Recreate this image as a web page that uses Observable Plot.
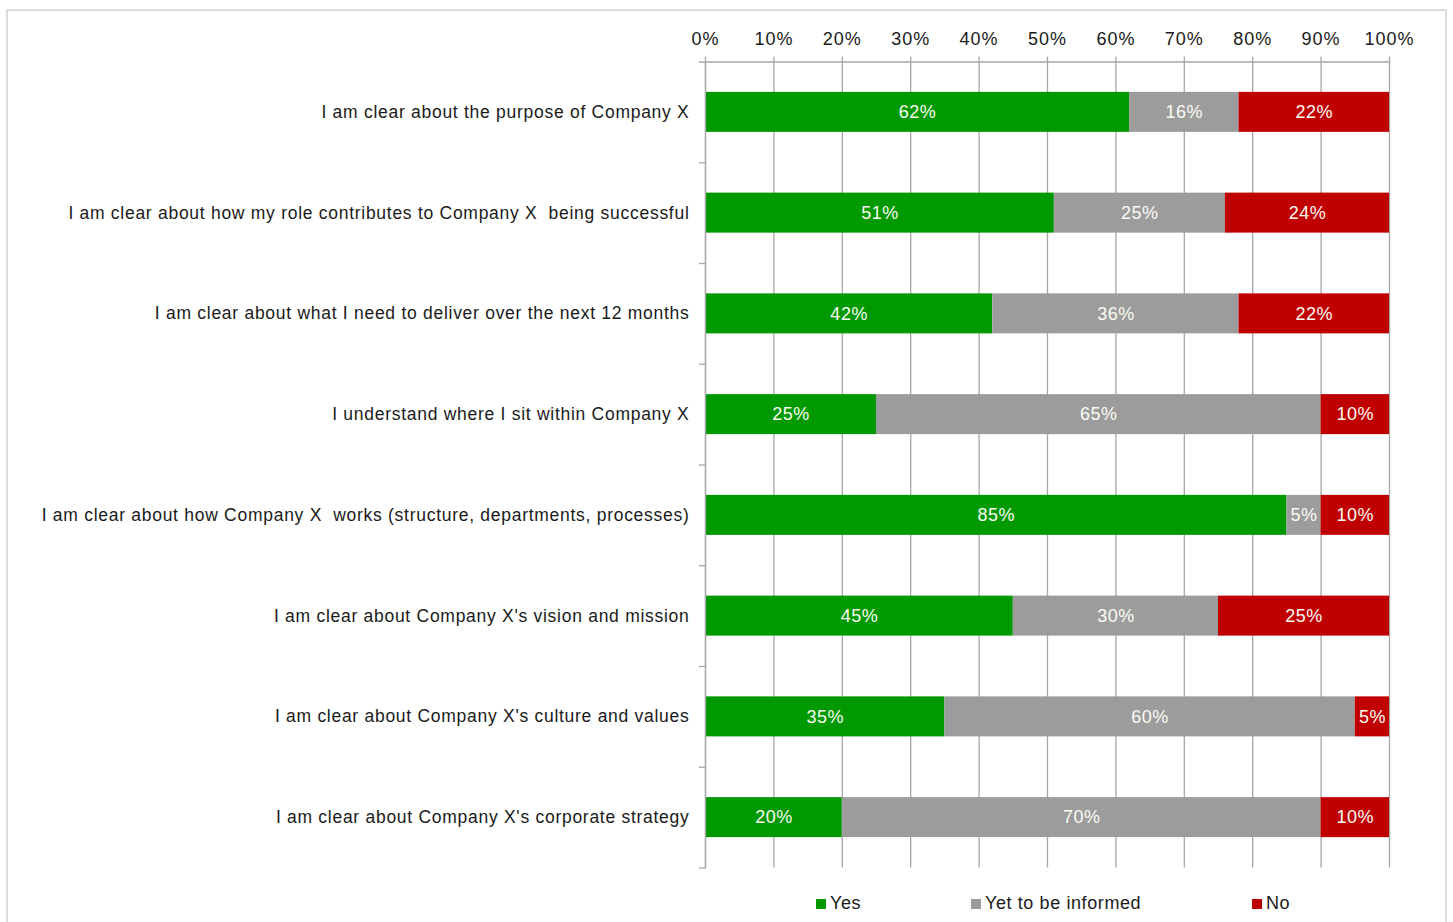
<!DOCTYPE html>
<html>
<head>
<meta charset="utf-8">
<script src="https://cdn.jsdelivr.net/npm/d3@7"></script>
<script src="https://cdn.jsdelivr.net/npm/@observablehq/plot@0.6"></script>
<style>
  html, body { margin: 0; padding: 0; background: #fff; }
  #wrap { position: relative; width: 1453px; height: 922px; overflow: hidden; font-family: "Liberation Sans", Arial, sans-serif; }
  #frame { position: absolute; left: 6px; top: 9px; width: 1441px; height: 930px; border: 2px solid #dcdcdc; box-sizing: border-box; }
  #chart { position: absolute; left: 0; top: 0; }
  .lg { position: absolute; top: 893px; font-size: 18px; letter-spacing: 0.6px; color: #1a1a1a; display: flex; align-items: center; white-space: nowrap; }
  .lg i { display: inline-block; width: 10px; height: 10px; margin-right: 4px; }
  #chart g[aria-label="y-axis tick label"] text { letter-spacing: 0.72px; }
  #chart g[aria-label="x-axis tick label"] text { letter-spacing: 1px; }
  #chart g[aria-label="text"] text { letter-spacing: 0.5px; }
</style>
</head>
<body>
<div id="wrap">
  <div id="frame"></div>
  <div id="chart"></div>
  <div id="legend"></div>
</div>
<script>
const categories = [
  "I am clear about the purpose of Company X",
  "I am clear about how my role contributes to Company X  being successful",
  "I am clear about what I need to deliver over the next 12 months",
  "I understand where I sit within Company X",
  "I am clear about how Company X  works (structure, departments, processes)",
  "I am clear about Company X's vision and mission",
  "I am clear about Company X's culture and values",
  "I am clear about Company X's corporate strategy"
];
const seriesNames = ["Yes", "Yet to be informed", "No"];
const seriesColors = ["#009900", "#9c9c9c", "#c00000"];
const yesValues = [62, 51, 42, 25, 85, 45, 35, 20];
const yetValues = [16, 25, 36, 65, 5, 30, 60, 70];
const noValues  = [22, 24, 22, 10, 10, 25, 5, 10];
const xTicks = [0, 10, 20, 30, 40, 50, 60, 70, 80, 90, 100];

const seriesValues = [yesValues, yetValues, noValues];
const data = [];
categories.forEach((c, i) => {
  seriesNames.forEach((s, j) => {
    data.push({category: c, series: s, value: seriesValues[j][i]});
  });
});

const marginTop = 61.5, marginBottom = 11.5, marginLeft = 705, marginRight = 64;
const height = 879;
const step = (height - marginTop - marginBottom) / categories.length;
const barH = 40;
const inset = (step - barH) / 2;

const chart = Plot.plot({
  width: 1453,
  height,
  marginTop, marginBottom, marginLeft, marginRight,
  style: {fontFamily: "'Liberation Sans', Arial, sans-serif", fontSize: "17px", color: "#1a1a1a", background: "transparent"},
  x: {domain: [0, 100], axis: null, label: null},
  y: {domain: categories, padding: 0, round: false, axis: null, label: null},
  color: {domain: seriesNames, range: seriesColors},
  marks: [
    Plot.ruleX(xTicks, {x: d => d, stroke: "#a6a6a6", strokeWidth: 1.3, insetTop: -5}),
    Plot.frame({anchor: "top", stroke: "#a6a6a6", strokeWidth: 1.3, insetLeft: -6}),
    Plot.barX(data, Plot.stackX({x: "value", y: "category", fill: "series", insetTop: inset, insetBottom: inset, order: seriesNames})),
    Plot.frame({anchor: "left", stroke: "#a6a6a6", strokeWidth: 1.3}),
    Plot.axisY({tickSize: 6, dy: step / 2, tickFormat: () => "", stroke: "#a6a6a6", strokeWidth: 1.3, strokeOpacity: 1, label: null}),
    Plot.axisY({tickSize: 0, tickPadding: 16, fontSize: 17.5, fill: "#1a1a1a", label: null}),
    Plot.axisX({anchor: "top", ticks: xTicks, tickFormat: d => d + "%", tickSize: 0, tickPadding: 17, fontSize: 18, fill: "#1a1a1a", label: null}),
    Plot.text(data, Plot.stackX({x: "value", y: "category", z: "series", order: seriesNames, text: d => d.value + "%", fill: "#fbfbf3", fontSize: 18}))
  ]
});
document.getElementById("chart").appendChild(chart);

const legendX = [816, 971, 1252];
const legend = document.getElementById("legend");
seriesNames.forEach((s, j) => {
  const el = document.createElement("div");
  el.className = "lg";
  el.style.left = legendX[j] + "px";
  el.innerHTML = `<i style="background:${seriesColors[j]}"></i>${s}`;
  legend.appendChild(el);
});
</script>
</body>
</html>
